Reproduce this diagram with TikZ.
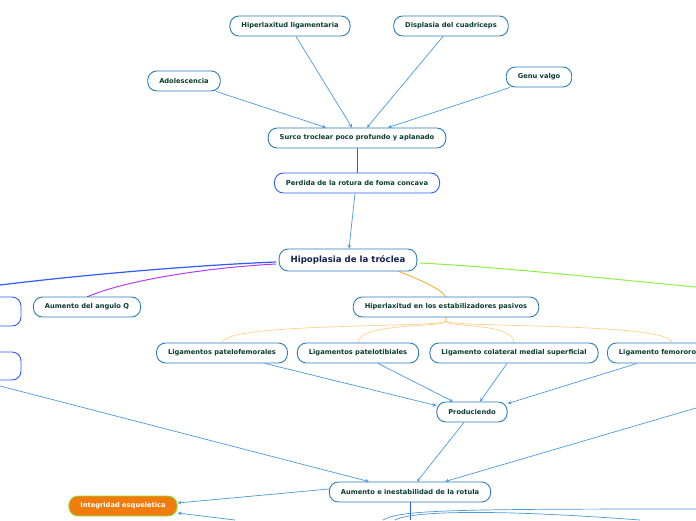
\documentclass[tikz,border=0pt]{standalone}
\usepackage{fontspec}
\setmainfont{DejaVu Sans}
\usepackage{xcolor}
\usetikzlibrary{arrows.meta}
\definecolor{nodeedge}{HTML}{2B7BB9}
\definecolor{nodetext}{HTML}{0B3D30}
\definecolor{arrowblue}{HTML}{4A98E0}
\definecolor{hipnavy}{HTML}{14204F}
\definecolor{brightblue}{HTML}{2F5BFF}
\definecolor{mapurple}{HTML}{B43CF0}
\definecolor{mapgreen}{HTML}{8CF03C}
\definecolor{maporange}{HTML}{F5A623}
\definecolor{lightorange}{HTML}{FFD08C}
\definecolor{orangefill}{HTML}{F07C0E}
\definecolor{greenedge}{HTML}{8CE63C}
\begin{document}
\begin{tikzpicture}[x=1pt,y=-1pt,>=stealth,
 idea/.style={draw=nodeedge,line width=0.9pt,rounded corners=9pt,fill=white,minimum height=20pt,inner xsep=11.5pt,font=\fontsize{6.7}{7.5}\selectfont\bfseries,text=nodetext},
 link/.style={->,arrowblue,line width=0.7pt},
 fan/.style={lightorange,line width=0.7pt}]
\useasboundingbox(0,0)rectangle(696,520);
\begin{scope}
\clip(0,0)rectangle(696,520);
\coordinate(lftA)at(0,285);
\coordinate(rgtA)at(696,287);
\coordinate(offL)at(0,386);
\coordinate(offR)at(696,408);
\coordinate(offB)at(235,520);
\coordinate(offV)at(410,520);
% branches from the main idea
\draw[brightblue,line width=1.2pt](276,262) .. controls (200,265) and (90,274) .. (lftA);
\draw[mapurple,line width=1pt](276,264) .. controls (200,268) and (120,282) .. (87,297);
\draw[mapgreen,line width=1pt](420,263) .. controls (500,267) and (600,278) .. (rgtA);
\draw[maporange,line width=0.8pt](398,271) .. controls (420,280) and (440,288) .. (446,297);
\foreach \t/\x in {lpf/222,lpt/358,lcm/514,lfr/672}
 \draw[fan](446,317)--(446,321) .. controls (446,328) and (\x,322) .. (\x,343);
% ideas
\node[idea](hlig)at(290,26){Hiperlaxitud ligamentaria};
\node[idea](disp)at(451,26){Displasia del cuadriceps};
\node[idea](adol)at(184,81){Adolescencia};
\node[idea](genu)at(539,77){Genu valgo};
\node[idea](surco)at(357,138){Surco troclear poco profundo y aplanado};
\node[idea,draw=brightblue](perd)at(357,183){Perdida de la rotura de foma concava};
\node[idea,minimum height=22pt,font=\fontsize{8.6}{9.5}\selectfont\bfseries,text=hipnavy](hip)at(348,260){Hipoplasia de la tróclea};
\node[idea](angq)at(87,307){Aumento del angulo Q};
\node[idea](pasiv)at(446,307){Hiperlaxitud en los estabilizadores pasivos};
\node[idea](lpf)at(222,353){Ligamentos patelofemorales};
\node[idea](lpt)at(358,353){Ligamentos patelotibiales};
\node[idea](lcm)at(514,353){Ligamento colateral medial superficial};
\node[idea,anchor=west](lfr)at(607,353){Ligamento femororotuliano};
\node[idea](prod)at(472,412){Produciendo};
\node[idea](inest)at(410,492){Aumento e inestabilidad de la rotula};
\node[idea,fill=orangefill,draw=greenedge,text=white](integ)at(123,506){Integridad esqueletica};
\node[draw=brightblue,line width=0.9pt,rounded corners=9pt,minimum width=40pt,minimum height=29pt](lbA)at(1,311.5){};
\node[draw=brightblue,line width=0.9pt,rounded corners=9pt,minimum width=40pt,minimum height=28pt](lbB)at(1,366){};
% links
\draw[link]([xshift=32pt]adol.south)--([xshift=-31pt]surco.north);
\draw[link]([xshift=6pt]hlig.south)--([xshift=-5pt]surco.north);
\draw[link]([xshift=-8pt]disp.south)--([xshift=10pt]surco.north);
\draw[link]([xshift=-29pt]genu.south)--([xshift=31pt]surco.north);
\draw[brightblue,line width=1pt](surco.south)--(perd.north);
\draw[link]([xshift=-2pt]perd.south)--([xshift=1pt]hip.north);
\draw[link]([xshift=43pt]lpf.south)--([yshift=-4pt]prod.north west);
\draw[link]([xshift=20pt]lpt.south)--([xshift=-19pt]prod.north);
\draw[link]([xshift=-7pt]lcm.south)--([xshift=8pt]prod.north);
\draw[link]([xshift=30pt]lfr.south west)--([yshift=-2pt]prod.north east);
\draw[link]([xshift=-8pt]prod.south)--([xshift=7pt]inest.north);
\draw[link](offL)--([xshift=-41pt]inest.north);
\draw[link](offR)--([xshift=35pt]inest.north);
\draw[link]([yshift=3pt]inest.west)--([yshift=3pt]integ.east);
\draw[link](offB)--([yshift=-7pt]integ.east);
\draw[brightblue,line width=1pt](inest.south)--(offV);
\draw[arrowblue,line width=0.7pt](383,520) .. controls (400,510) and (450,509) .. (696,509);
\draw[arrowblue,line width=0.7pt](395,520) .. controls (410,512) and (480,508) .. (640,520);
\end{scope}
\end{tikzpicture}
\end{document}
